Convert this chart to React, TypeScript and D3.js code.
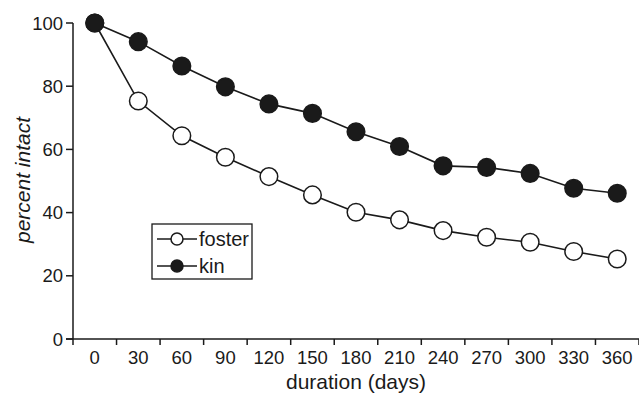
import React from "react";
import * as d3 from "d3";

const categories = ["0", "30", "60", "90", "120", "150", "180", "210", "240", "270", "300", "330", "360"];
const fosterValues = [100, 75.3, 64.3, 57.5, 51.4, 45.6, 40.1, 37.7, 34.3, 32.2, 30.6, 27.7, 25.3];
const kinValues = [100, 94.1, 86.4, 79.8, 74.4, 71.4, 65.6, 60.9, 54.8, 54.3, 52.4, 47.7, 46.1];
const yTicks = [0, 20, 40, 60, 80, 100];

const W = 639;
const H = 393;
const FONT = "Liberation Sans, Arial, Helvetica, sans-serif";
const INK = "#1a1a1a";

export default function App() {
  const x = d3.scaleBand<string>().domain(categories).range([73, 639]).paddingInner(0).paddingOuter(0);
  const y = d3.scaleLinear().domain([0, 100]).range([339, 23]);
  const cx = (c: string) => (x(c) as number) + x.bandwidth() / 2;
  const line = d3
    .line<number>()
    .x((_, i) => cx(categories[i]))
    .y((d) => y(d));
  const bounds = categories.map((c) => x(c) as number).concat([x.range()[1]]);

  const series = [
    { name: "foster", values: fosterValues, fill: "#ffffff" },
    { name: "kin", values: kinValues, fill: INK },
  ];

  return (
    <div style={{ position: "absolute", left: 0, top: 0 }}>
      <svg width={W} height={H} style={{ display: "block" }} fontFamily={FONT}>
        <rect width={W} height={H} fill="#ffffff" />
        {/* y axis */}
        <line x1={73} x2={73} y1={y(100)} y2={y(0)} stroke={INK} strokeWidth={1.5} />
        {yTicks.map((t) => (
          <g key={t}>
            <line x1={66} x2={73} y1={y(t)} y2={y(t)} stroke={INK} strokeWidth={1.5} />
            <text x={63} y={y(t)} dy="0.36em" textAnchor="end" fontSize={18.5} fill={INK}>
              {t}
            </text>
          </g>
        ))}
        {/* x axis */}
        <line x1={66} x2={639} y1={y(0)} y2={y(0)} stroke={INK} strokeWidth={1.5} />
        {bounds.map((b, i) => (
          <line key={i} x1={b} x2={b} y1={y(0)} y2={y(0) + 6} stroke={INK} strokeWidth={1.5} />
        ))}
        {categories.map((c) => (
          <text key={c} x={cx(c)} y={364} textAnchor="middle" fontSize={18.5} fill={INK}>
            {c}
          </text>
        ))}
        <text x={356} y={389} textAnchor="middle" fontSize={21} fill={INK}>
          duration (days)
        </text>
        <text
          transform={`translate(30,180) rotate(-90)`}
          textAnchor="middle"
          fontSize={21}
          fontStyle="italic"
          fill={INK}
        >
          percent intact
        </text>
        {/* series */}
        {series.map((s) => (
          <g key={s.name}>
            <path d={line(s.values) as string} fill="none" stroke={INK} strokeWidth={1.6} />
            {s.values.map((v, i) => (
              <circle key={i} cx={cx(categories[i])} cy={y(v)} r={8.8} fill={s.fill} stroke={INK} strokeWidth={1.5} />
            ))}
          </g>
        ))}
        {/* legend */}
        <rect x={152} y={224} width={100} height={55} fill="#ffffff" stroke={INK} strokeWidth={1.3} />
        {series.map((s, i) => {
          const ly = 239 + i * 27;
          return (
            <g key={s.name}>
              <line x1={157} x2={197} y1={ly} y2={ly} stroke={INK} strokeWidth={1.5} />
              <circle cx={177} cy={ly} r={6} fill={s.fill} stroke={INK} strokeWidth={1.5} />
              <text x={199} y={ly} dy="0.36em" fontSize={20} fill={INK}>
                {s.name}
              </text>
            </g>
          );
        })}
      </svg>
    </div>
  );
}
